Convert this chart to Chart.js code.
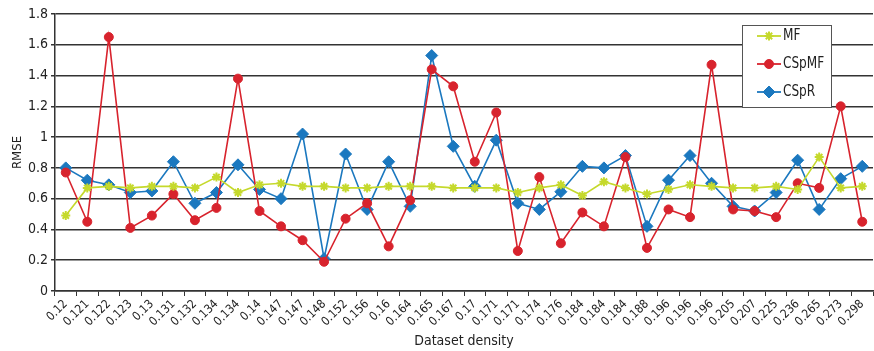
<!DOCTYPE html>
<html>
<head>
<meta charset="utf-8">
<script src="https://cdn.jsdelivr.net/npm/chart.js@4/dist/chart.umd.min.js"></script>
<style>
  html, body { margin: 0; padding: 0; background: #fff; overflow: hidden; }
  #wrap { width: 880px; height: 351px; }
</style>
</head>
<body>
<div id="wrap"><canvas id="rmseChart" width="880" height="351"></canvas></div>
<script>
const densities = ['0.12', '0.121', '0.122', '0.123', '0.13', '0.131', '0.132', '0.134', '0.134', '0.14',
  '0.147', '0.147', '0.148', '0.152', '0.156', '0.16', '0.164', '0.165', '0.167', '0.17',
  '0.171', '0.171', '0.174', '0.176', '0.184', '0.184', '0.184', '0.188', '0.196', '0.196',
  '0.196', '0.205', '0.207', '0.225', '0.236', '0.265', '0.273', '0.298'];

const mf = [0.49, 0.67, 0.68, 0.67, 0.68, 0.68, 0.67, 0.74, 0.64, 0.69,
  0.70, 0.68, 0.68, 0.67, 0.67, 0.68, 0.68, 0.68, 0.67, 0.67,
  0.67, 0.64, 0.67, 0.69, 0.62, 0.71, 0.67, 0.63, 0.66, 0.69,
  0.68, 0.67, 0.67, 0.68, 0.66, 0.87, 0.67, 0.68];

const cspmf = [0.77, 0.45, 1.65, 0.41, 0.49, 0.63, 0.46, 0.54, 1.38, 0.52,
  0.42, 0.33, 0.19, 0.47, 0.57, 0.29, 0.59, 1.44, 1.33, 0.84,
  1.16, 0.26, 0.74, 0.31, 0.51, 0.42, 0.87, 0.28, 0.53, 0.48,
  1.47, 0.53, 0.52, 0.48, 0.70, 0.67, 1.20, 0.45];

const cspr = [0.80, 0.72, 0.69, 0.64, 0.65, 0.84, 0.57, 0.64, 0.82, 0.66,
  0.60, 1.02, 0.21, 0.89, 0.53, 0.84, 0.55, 1.53, 0.94, 0.68,
  0.98, 0.57, 0.53, 0.645, 0.81, 0.80, 0.88, 0.42, 0.72, 0.88,
  0.70, 0.55, 0.52, 0.64, 0.85, 0.53, 0.73, 0.81];

const seriesNames = ['MF', 'CSpMF', 'CSpR'];
const seriesColors = ['#c5d92c', '#d8232d', '#1b78bf'];
const seriesMarkers = ['star', 'circle', 'rectRot'];

const FONT = '"DejaVu Sans Condensed", "Liberation Sans Narrow", "Arial Narrow", sans-serif';

// legend box drawn inside the plot, like the original
const boxLegend = {
  id: 'boxLegend',
  afterDraw(chart) {
    const ctx = chart.ctx;
    const x0 = 742, y0 = 25, w = 89, h = 82;
    ctx.save();
    ctx.fillStyle = '#fff';
    ctx.fillRect(x0, y0, w, h);
    ctx.strokeStyle = '#555';
    ctx.lineWidth = 1;
    ctx.strokeRect(x0 + 0.5, y0 + 0.5, w, h);
    chart.data.datasets.forEach((ds, i) => {
      const cy = y0 + 11 + i * 28;
      ctx.strokeStyle = ds.borderColor;
      ctx.lineWidth = 1.8;
      ctx.beginPath();
      ctx.moveTo(757, cy);
      ctx.lineTo(781, cy);
      ctx.stroke();
      ctx.fillStyle = ds.borderColor;
      ctx.strokeStyle = ds.borderColor;
      ctx.lineWidth = ds.pointBorderWidth || 1;
      Chart.helpers.drawPoint(ctx, {
        pointStyle: ds.pointStyle,
        radius: ds.pointRadius,
        borderWidth: ds.pointBorderWidth || 1
      }, 769, cy);
      // narrow the label a bit, the original uses a condensed face
      ctx.save();
      ctx.translate(783, cy);
      ctx.scale(0.84, 1);
      ctx.fillStyle = '#222';
      ctx.font = '16px ' + FONT;
      ctx.textBaseline = 'middle';
      ctx.textAlign = 'left';
      ctx.fillText(ds.label, 0, 0);
      ctx.restore();
    });
    ctx.restore();
  }
};

function makeDataset(i, values) {
  return {
    label: seriesNames[i],
    data: values,
    borderColor: seriesColors[i],
    backgroundColor: seriesColors[i],
    pointBackgroundColor: seriesColors[i],
    pointBorderColor: seriesColors[i],
    pointStyle: seriesMarkers[i],
    pointRadius: i === 2 ? 6 : 4.5,
    pointBorderWidth: i === 0 ? 2 : 1,
    borderWidth: 1.6,
    tension: 0,
    fill: false
  };
}

const ctx = document.getElementById('rmseChart');
new Chart(ctx, {
  type: 'line',
  data: {
    labels: densities,
    datasets: [makeDataset(0, mf), makeDataset(1, cspmf), makeDataset(2, cspr)]
  },
  options: {
    responsive: false,
    animation: false,
    layout: { padding: { top: 14, right: 2, left: 0, bottom: 0 } },
    plugins: {
      legend: { display: false },
      tooltip: { enabled: false }
    },
    scales: {
      x: {
        offset: true,
        afterFit(scale) { scale.height = 60; },
        grid: {
          offset: true,
          drawOnChartArea: false,
          drawTicks: true,
          tickLength: 5,
          color: '#333',
          lineWidth: 1
        },
        border: { color: '#333', width: 1.5 },
        ticks: {
          autoSkip: false,
          minRotation: 45,
          maxRotation: 45,
          padding: 1,
          color: '#222',
          font: { family: FONT, size: 12 }
        },
        title: {
          display: true,
          text: 'Dataset density',
          color: '#222',
          padding: { top: 0, bottom: 1 },
          font: { family: FONT, size: 14 }
        }
      },
      y: {
        min: 0,
        max: 1.8,
        afterFit(scale) { scale.width = 55; },
        grid: {
          color: '#333',
          lineWidth: 1.5,
          drawTicks: true,
          tickLength: 4
        },
        border: { color: '#333', width: 1.5 },
        ticks: {
          stepSize: 0.2,
          padding: 3,
          color: '#222',
          font: { family: FONT, size: 14 },
          callback: v => String(Math.round(v * 10) / 10)
        },
        title: {
          display: true,
          text: 'RMSE',
          color: '#222',
          padding: { top: 10, bottom: 0 },
          font: { family: FONT, size: 13 }
        }
      }
    }
  },
  plugins: [boxLegend]
});
</script>
</body>
</html>
